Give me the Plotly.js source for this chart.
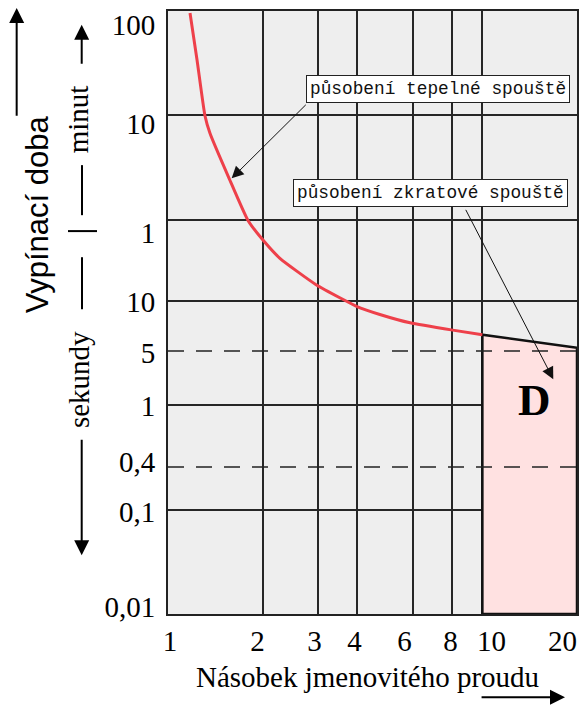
<!DOCTYPE html>
<html>
<head>
<meta charset="utf-8">
<script src="https://cdn.plot.ly/plotly-3.0.1.min.js"></script>
<style>html,body{margin:0;padding:0;background:#fff;}#chart{width:581px;height:705px;}</style>
</head>
<body>
<div id="chart"></div>
<script>
// ---- data ----
// thermal trip curve: multiple of rated current vs. trip time (seconds)
const currentMultiple = [1.175, 1.237, 1.311, 1.360, 1.563, 1.797, 2.005, 2.27, 2.95, 3.57, 4.01, 4.72, 5.89, 8.05, 10];
const tripTimeSec     = [5744, 2036, 595, 404, 150.5, 59, 38.3, 25.6, 14.4, 10.5, 8.78, 7.42, 6.17, 5.25, 4.75];
// short-circuit zone "D"
const zoneX = [10, 10, 20, 20, 10];
const zoneY = [0.01, 4.75, 3.55, 0.01, 0.01];
// dashed reference lines (5 s and 0,4 s marks)
const dashedY = [3.32, 0.2566];
// grid lines
const xGrid = [2, 3, 4, 6, 8, 10];
const yGrid = [0.1, 1, 10, 60, 600];
// tick labels and where the picture prints them
const xTickText = ['1', '2', '3', '4', '6', '8', '10', '20'];
const xTickPos  = [1.015, 1.926, 2.924, 3.92, 5.652, 7.915, 10.69, 17.98];
const yTickText = ['0,01', '0,1', '0,4', '1', '5', '10', '1', '10', '100'];
const yTickPos  = [0.0116, 0.0944, 0.288, 0.98, 3.16, 9.8, 44.7, 495.5, 4457];
// call-out arrows (tip and tail, data units)
const calloutText = ['působení tepelné spouště', 'působení zkratové spouště'];
const calloutTipX = [1.594, 16.81];
const calloutTipY = [149.5, 1.779];
const calloutTailX = [2.774, 8.807];
const calloutTailY = [782.8, 77.1];
const zoneLabel = 'D';
const zoneLabelX = 14.65, zoneLabelY = 1.12;

const L = Math.log10;
const xMin = 1, xMax = 20, yMin = 0.01, yMax = 6000;

const traces = [];
traces.push({
  x: zoneX, y: zoneY, type: 'scatter', mode: 'lines', fill: 'toself',
  fillcolor: '#ffe1e1', line: {color: '#111', width: 2.5}, hoverinfo: 'skip'
});
dashedY.forEach(v => traces.push({
  x: [xMin, xMax], y: [v, v], type: 'scatter', mode: 'lines',
  line: {color: '#222', width: 1.5, dash: '16px,12px'}, hoverinfo: 'skip'
}));
traces.push({
  x: currentMultiple, y: tripTimeSec, type: 'scatter', mode: 'lines',
  line: {color: '#ee404a', width: 3, shape: 'spline', smoothing: 0.5}, hoverinfo: 'skip'
});

const serif = 'Liberation Serif, Times New Roman, serif';
const annotations = [];
// callout boxes
const boxPos = [[0.6599, 0.870], [0.6418, 0.6989]];
calloutText.forEach((t, i) => {
  annotations.push({
    text: t, xref: 'paper', yref: 'paper', x: boxPos[i][0], y: boxPos[i][1],
    xanchor: 'center', yanchor: 'middle', showarrow: false,
    font: {family: 'Liberation Mono, Courier New, monospace', size: 17.8, color: '#111'},
    bgcolor: '#ffffff', bordercolor: '#222', borderwidth: 1, borderpad: 3
  });
  annotations.push({
    text: '', xref: 'x', yref: 'y', x: L(calloutTipX[i]), y: L(calloutTipY[i]),
    axref: 'x', ayref: 'y', ax: L(calloutTailX[i]), ay: L(calloutTailY[i]),
    showarrow: true, arrowhead: 2, arrowsize: 2.4, arrowwidth: 1, arrowcolor: '#111',
    standoff: 0, startstandoff: 0
  });
});
annotations.push({
  text: '<b>' + zoneLabel + '</b>', xref: 'x', yref: 'y', x: L(zoneLabelX), y: L(zoneLabelY),
  showarrow: false, font: {family: serif, size: 45, color: '#000'}
});
// axis captions
annotations.push({
  text: 'Násobek jmenovitého proudu', xref: 'paper', yref: 'paper', x: 0.488, y: -0.105,
  xanchor: 'center', yanchor: 'middle', showarrow: false, font: {family: serif, size: 29, color: '#000'}
});
annotations.push({
  text: 'Vypínací doba', xref: 'paper', yref: 'paper', x: -0.320, y: 0.663, textangle: -90,
  xanchor: 'center', yanchor: 'middle', showarrow: false,
  font: {family: 'Liberation Sans, Arial, sans-serif', size: 31, color: '#000'}
});
annotations.push({
  text: 'minut', xref: 'paper', yref: 'paper', x: -0.219, y: 0.821, textangle: -90,
  xanchor: 'center', yanchor: 'middle', showarrow: false, font: {family: serif, size: 29, color: '#000'}
});
annotations.push({
  text: 'sekundy', xref: 'paper', yref: 'paper', x: -0.219, y: 0.3886, textangle: -90,
  xanchor: 'center', yanchor: 'middle', showarrow: false, font: {family: serif, size: 29, color: '#000'}
});
// decorative arrows (tip, tail in domain fractions)
const deco = [
  [-0.370, 1.005, -0.370, 0.824],
  [-0.211, 0.977, -0.211, 0.910],
  [-0.211, 0.0973, -0.211, 0.2915],
  [0.9707, -0.138, 0.763, -0.138]
];
deco.forEach(d => annotations.push({
  text: '', xref: 'x domain', yref: 'y domain', x: d[0], y: d[1],
  axref: 'x domain', ayref: 'y domain', ax: d[2], ay: d[3],
  showarrow: true, arrowhead: 2, arrowsize: 1.5, arrowwidth: 2, arrowcolor: '#000',
  standoff: 0, startstandoff: 0
}));

const shapes = [
  {type: 'line', xref: 'paper', yref: 'paper', x0: -0.2103, x1: -0.2103, y0: 0.7444, y1: 0.6614, line: {color: '#000', width: 2}},
  {type: 'line', xref: 'paper', yref: 'paper', x0: -0.2445, x1: -0.1736, y0: 0.635, y1: 0.635, line: {color: '#000', width: 2}},
  {type: 'line', xref: 'paper', yref: 'paper', x0: -0.2103, x1: -0.2103, y0: 0.5917, y1: 0.5054, line: {color: '#000', width: 2}}
];

const axisCommon = {
  type: 'log', showgrid: false, zeroline: false, ticks: '',
  showline: true, mirror: true, linecolor: '#222', linewidth: 2,
  tickmode: 'array', tickfont: {family: serif, size: 29, color: '#000'},
  fixedrange: true
};

const layout = {
  width: 581, height: 705,
  margin: {l: 168, r: 4, t: 11, b: 91},
  paper_bgcolor: '#ffffff', plot_bgcolor: '#eeeeee',
  showlegend: false, hovermode: false,
  xaxis: Object.assign({}, axisCommon, {
    range: [L(xMin), L(xMax)], tickvals: xTickPos, ticktext: xTickText, ticklabelstandoff: 0,
    minor: {tickmode: 'array', tickvals: xGrid, showgrid: true, gridcolor: '#262626', gridwidth: 2, ticks: ''}
  }),
  yaxis: Object.assign({}, axisCommon, {
    range: [L(yMin), L(yMax)], tickvals: yTickPos, ticktext: yTickText, ticklabelstandoff: 5,
    minor: {tickmode: 'array', tickvals: yGrid, showgrid: true, gridcolor: '#262626', gridwidth: 2, ticks: ''}
  }),
  annotations: annotations,
  shapes: shapes
};

Plotly.newPlot('chart', traces, layout, {staticPlot: true, displayModeBar: false});
</script>
</body>
</html>
